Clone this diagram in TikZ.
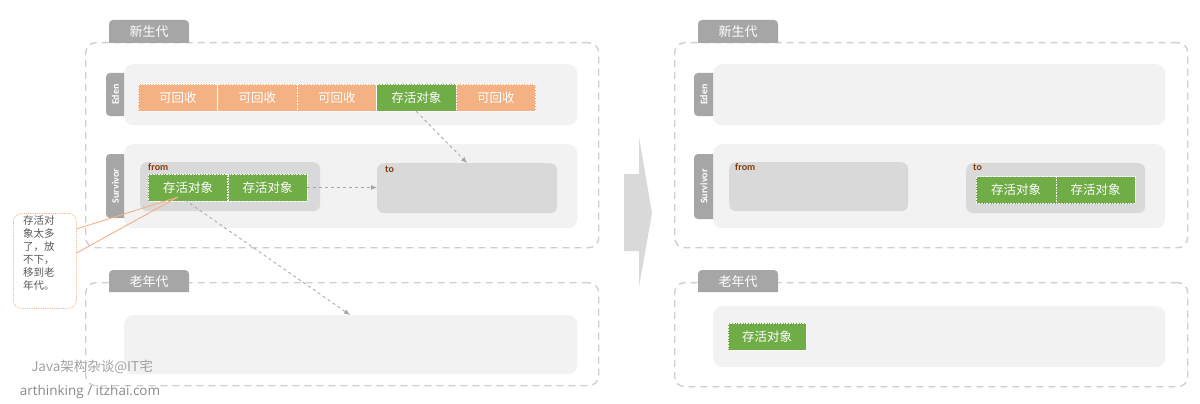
\documentclass[tikz,border=0pt]{standalone}
\usepackage{fontspec}
\setmainfont{Carlito}
\newfontfamily\cjk{Noto Sans CJK SC}
\newfontfamily\wm{Open Sans}
\usetikzlibrary{arrows.meta}
\definecolor{dashc}{HTML}{D0CECE}
\definecolor{tabc}{HTML}{A6A6A6}
\definecolor{panelc}{HTML}{F2F2F2}
\definecolor{boxc}{HTML}{D9D9D9}
\definecolor{orangec}{HTML}{F4B183}
\definecolor{greenc}{HTML}{70AD47}
\definecolor{brownc}{HTML}{843C0C}
\definecolor{arrc}{HTML}{A6A6A6}
\definecolor{notec}{HTML}{595959}
\definecolor{wmc}{HTML}{A0A0A0}
\tikzset{
  dbox/.style={draw=dashc, line width=1.4pt, dash pattern=on 7pt off 5pt, rounded corners=10pt, anchor=north west, inner sep=0pt},
  panel/.style={fill=panelc, rounded corners=9pt, anchor=north west, inner sep=0pt},
  inbox/.style={fill=boxc, rounded corners=7pt, anchor=north west, inner sep=0pt},
  tabtxt/.style={text=white, font=\cjk\fontsize{13}{13}\selectfont},
  sidetxt/.style={text=white, rotate=90, font=\bfseries\fontsize{10}{10}\selectfont},
  lbl/.style={text=brownc, anchor=west, inner sep=0pt, font=\bfseries\fontsize{10}{10}\selectfont},
  cell/.style={draw=white, densely dotted, line width=0.6pt, minimum height=27pt, inner sep=0pt, text=white, font=\cjk\fontsize{12.5}{12.5}\selectfont},
  ocell/.style={cell, fill=orangec, minimum width=79.5pt},
  gcell/.style={cell, fill=greenc, minimum width=79.5pt},
  darr/.style={draw=arrc, line width=0.8pt, dash pattern=on 3pt off 3pt, -{Latex[length=6pt,width=5pt]}},
}
\begin{document}
\begin{tikzpicture}[x=1pt,y=-1pt]
\useasboundingbox (0,0) rectangle (1200,404);

% ===================== LEFT =====================
% young gen
\node[dbox, minimum width=513pt, minimum height=205pt] (ygL) at (85,42) {};
\fill[tabc] (109,43) {[rounded corners=4pt] -- (109,20) -- (189,20)} -- (189,43) -- cycle;
\node[tabtxt] (ygLt) at (149,32) {新生代};
% eden
\node[panel, minimum width=453pt, minimum height=61pt] (edL) at (124,64) {};
\fill[tabc] (124,73) {[rounded corners=4pt] -- (106,73) -- (106,116)} -- (124,116) -- cycle;
\node[sidetxt] (edLt) at (115.5,94.5) {Eden};
\node[ocell] (e1) at (177.75,97.5) {可回收};
\node[ocell] (e2) at (257.25,97.5) {可回收};
\node[ocell] (e3) at (336.75,97.5) {可回收};
\node[gcell] (e4) at (416.25,97.5) {存活对象};
\node[ocell] (e5) at (495.75,97.5) {可回收};
% survivor
\node[panel, minimum width=453pt, minimum height=84pt] (svL) at (124,144) {};
\fill[tabc] (124,154) {[rounded corners=4pt] -- (106,154) -- (106,218)} -- (124,218) -- cycle;
\node[sidetxt] (svLt) at (115.5,186) {Survivor};
\node[inbox, minimum width=180pt, minimum height=49pt] (fromL) at (140,162) {};
\node[lbl] (fromLt) at (148,167) {from};
\node[inbox, minimum width=180pt, minimum height=50pt] (toL) at (377,163) {};
\node[lbl] (toLt) at (385,169) {to};
\node[gcell, minimum width=79.5pt] (f1) at (188,187.5) {存活对象};
\node[gcell, minimum width=79pt] (f2) at (267.5,187.5) {存活对象};
% old gen
\node[dbox, minimum width=513pt, minimum height=103pt] (ogL) at (85,282) {};
\fill[tabc] (109,292) {[rounded corners=4pt] -- (109,270) -- (189,270)} -- (189,292) -- cycle;
\node[tabtxt] (ogLt) at (149,281.5) {老年代};
\node[panel, minimum width=453pt, minimum height=59pt] (opL) at (124,315) {};

% arrows
\coordinate (toTop) at (467,163);
\coordinate (opTop) at (350,315);
\coordinate (f1s) at (185,200);
\draw[darr] (e4.south) -- (toTop);
\draw[darr] (f2.east) -- (toL.west |- f2.east);
\draw[darr] (f1s) -- (opTop);

% callout
\coordinate (ctip) at (178,197);
\node[draw=orangec, densely dotted, line width=0.8pt, fill=white, rounded corners=8pt, anchor=north west, minimum width=63pt, minimum height=95pt, inner sep=0pt] (note) at (13,213) {};
\draw[orangec, line width=0.9pt] (76.5,229) -- (ctip);
\draw[orangec, line width=0.9pt] (76.5,253) -- (ctip);
\node[anchor=north west, inner sep=0pt, text=notec, align=left, font=\cjk\fontsize{10.5}{13}\selectfont] (notet) at (23,215) {存活对\\象太多\\了，放\\不下，\\移到老\\年代。};

% watermark
\node[text=wmc, font=\cjk\fontsize{13.5}{13.5}\selectfont] (wm1) at (92,367) {Java架构杂谈@IT宅};
\node[text=wmc!85!black, font=\wm\fontsize{13.5}{13.5}\selectfont] (wm2) at (90,392) {arthinking / itzhai.com};

% big arrow
\fill[boxc] (624,174) -- (639,174) -- (639,137) -- (652,213) -- (639,287) -- (639,251) -- (624,251) -- cycle;

% ===================== RIGHT =====================
\node[dbox, minimum width=513pt, minimum height=205pt] (ygR) at (674,42) {};
\fill[tabc] (698,43) {[rounded corners=4pt] -- (698,20) -- (778,20)} -- (778,43) -- cycle;
\node[tabtxt] (ygRt) at (738,32) {新生代};
\node[panel, minimum width=452pt, minimum height=61pt] (edR) at (713,64) {};
\fill[tabc] (713,73) {[rounded corners=4pt] -- (694,73) -- (694,116)} -- (713,116) -- cycle;
\node[sidetxt] (edRt) at (704,94.5) {Eden};
\node[panel, minimum width=452pt, minimum height=84pt] (svR) at (713,144) {};
\fill[tabc] (713,154) {[rounded corners=4pt] -- (694,154) -- (694,219)} -- (713,219) -- cycle;
\node[sidetxt] (svRt) at (704,186.5) {Survivor};
\node[inbox, minimum width=179pt, minimum height=49pt] (fromR) at (729,162) {};
\node[lbl] (fromRt) at (735,167) {from};
\node[inbox, minimum width=179pt, minimum height=50pt] (toR) at (966,163) {};
\node[lbl] (toRt) at (973,167) {to};
\node[gcell, minimum width=80pt] (t1) at (1016,190) {存活对象};
\node[gcell, minimum width=79pt] (t2) at (1095.5,190) {存活对象};
\node[dbox, minimum width=513pt, minimum height=104pt] (ogR) at (674,282) {};
\fill[tabc] (698,292) {[rounded corners=4pt] -- (698,270) -- (778,270)} -- (778,292) -- cycle;
\node[tabtxt] (ogRt) at (738,281.5) {老年代};
\node[panel, minimum width=452pt, minimum height=61pt] (opR) at (713,306) {};
\node[gcell, minimum width=78pt] (o1) at (767,336.5) {存活对象};
\end{tikzpicture}
\end{document}
